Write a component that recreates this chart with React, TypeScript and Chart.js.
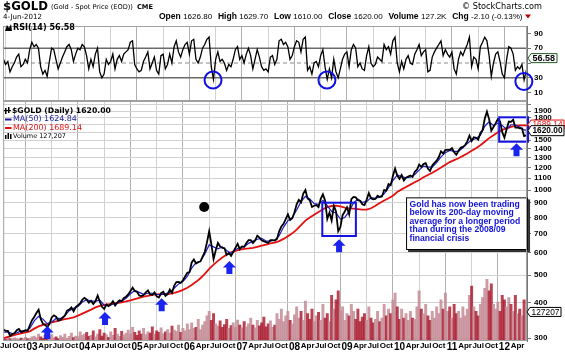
import React, { useEffect, useRef } from 'react';
import { Chart, registerables } from 'chart.js';
Chart.register(...registerables);

// ---------------- DATA ----------------
const X_MIN = 2002.45;
const X_MAX = 2012.43;
const X_TICK_START = 2002.5; // quarterly ticks starting Jul 2002
const X_TICK_LABELS = ['Jul','Oct','03','Apr','Jul','Oct','04','Apr','Jul','Oct','05','Apr','Jul','Oct','06','Apr','Jul','Oct','07','Apr','Jul','Oct','08','Apr','Jul','Oct','09','Apr','Jul','Oct','10','Apr','Jul','Oct','11','Apr','Jul','Oct','12','Apr'];

const PRICE_TICKS = [300,400,500,600,700,800,900,1000,1100,1200,1300,1400,1500,1600,1700,1800,1900,2000];
const PRICE_TICK_LABELS = ['300','400','500','600','700','800','900','1000','1100','1200','1300','1400','1500','','','1800','1900',''];
const RSI_TICKS = [10,30,50,70,90];
const RSI_TICK_LABELS = ['10','30','','70','90'];

// semi-monthly closes (mid-month, month-end); 2002 starts mid-June
const PRICE_2002 = [322,318,318,305,310,312,320,323,315,317,320,318,333,347];
const PRICE_2003 = [356,368,378,350,337,334,328,337,355,361,357,346,348,354,360,375,378,385,373,386,392,398,410,416];
const PRICE_2004 = [410,400,406,396,405,424,403,387,380,394,389,395,405,391,401,408,405,416,420,428,440,452,440,437];
const PRICE_2005 = [424,422,426,435,442,428,426,435,421,417,432,437,423,429,445,433,460,473,474,470,480,495,510,513];
const PRICE_2006 = [555,569,550,556,560,582,605,654,715,643,570,613,650,632,625,623,590,599,585,604,625,646,618,632];
const PRICE_2007 = [630,650,665,665,650,663,690,679,665,659,655,650,665,665,663,672,715,743,760,789,820,783,795,834];
const PRICE_2008 = [890,923,905,972,1000,933,920,871,880,885,870,930,965,918,790,833,780,880,840,715,740,815,840,869];
const PRICE_2009 = [820,928,945,942,920,916,890,884,925,975,935,927,930,955,945,949,1000,995,1050,1040,1120,1190,1125,1096];
const PRICE_2010 = [1130,1081,1105,1116,1125,1112,1160,1179,1230,1207,1235,1244,1190,1169,1220,1246,1270,1307,1370,1346,1385,1386,1385,1405];
const PRICE_2011 = [1360,1332,1375,1409,1420,1439,1485,1556,1490,1536,1530,1505,1590,1628,1785,1890,1780,1620,1670,1722,1780,1746,1600,1531];
const PRICE_2012 = [1640,1744,1740,1770,1660,1662,1650,1651,1550,1558];
const LAST_DATE = 2012.425;
const LAST_CLOSE = 1620.0;

const RSI_2002 = [55,48,52,38,45,50,58,62,45,48,55,50,68,78];
const RSI_2003 = [72,75,70,45,35,40,32,52,70,68,55,42,50,58,65,72,75,68,52,62,70,68,75,72];
const RSI_2004 = [60,42,55,45,62,70,38,30,35,55,48,52,62,42,55,60,52,62,65,68,78,80,48,42];
const RSI_2005 = [38,40,52,58,65,42,50,58,40,35,60,62,42,48,62,50,72,80,65,58,68,75,78,62];
const RSI_2006 = [80,82,55,50,58,70,75,82,85,45,28,55,65,52,55,50,40,48,45,55,68,72,55,60];
const RSI_2007 = [50,62,70,60,42,55,68,58,45,40,42,38,58,60,48,55,80,82,75,78,72,55,60,72];
const RSI_2008 = [80,78,65,82,85,40,45,35,50,52,45,60,68,45,28,42,30,55,38,30,42,55,62,65];
const RSI_2009 = [45,68,75,70,45,50,42,40,60,72,50,45,48,58,55,52,75,68,72,62,80,85,50,38];
const RSI_2010 = [52,42,55,60,50,48,62,68,75,60,65,68,38,40,58,65,70,75,80,60,68,62,58,65];
const RSI_2011 = [42,35,55,65,60,68,75,85,45,58,55,42,72,78,85,80,60,32,50,62,65,52,35,30];
const RSI_2012 = [55,72,70,62,40,45,42,48,27,40];
const LAST_RSI = 56.58;

// volume, thousands
const VOL_2002 = [12,8,15,10,9,14,11,7,13,10,16,9,12,18];
const VOL_2003 = [22,15,30,18,12,25,10,20,28,14,18,9,24,16,30,12,20,35,15,22,18,40,25,30];
const VOL_2004 = [38,20,25,45,18,30,50,22,35,28,16,40,25,55,30,20,42,26,35,48,30,60,38,25];
const VOL_2005 = [45,30,55,28,40,35,62,30,45,38,58,32,40,50,35,65,48,42,70,38,55,45,75,50];
const VOL_2006 = [80,55,60,95,50,70,85,110,130,90,120,75,65,88,60,72,95,55,68,80,60,92,70,58];
const VOL_2007 = [85,62,75,100,70,58,90,66,80,105,62,75,88,60,70,120,95,140,85,110,130,90,75,115];
const VOL_2008 = [150,100,130,90,175,120,95,140,85,110,125,90,160,100,120,85,200,140,180,220,130,150,90,120];
const VOL_2009 = [110,160,130,95,140,85,105,120,90,150,100,80,95,130,85,100,160,110,140,120,180,210,150,95];
const VOL_2010 = [140,100,120,90,130,100,95,150,220,140,120,160,110,90,130,100,150,120,180,140,210,130,150,100];
const VOL_2011 = [160,120,130,100,150,110,140,200,240,150,130,110,160,190,230,270,220,250,160,140,170,130,200,180];
const VOL_2012 = [150,190,160,130,200,120,140,110,180,150];
const LAST_VOL = 127.207;

// monthly moving averages (mid-month); 2002 starts June
const MA50_2002 = [315,315,311,313,318,318,325];
const MA50_2003 = [345,358,350,337,342,352,352,360,375,382,388,402];
const MA50_2004 = [410,405,405,408,392,390,395,400,406,415,430,442];
const MA50_2005 = [435,428,432,432,428,427,430,435,450,466,475,495];
const MA50_2006 = [530,555,560,595,640,630,620,630,612,598,615,628];
const MA50_2007 = [630,648,660,670,675,660,660,665,690,740,780,800];
const MA50_2008 = [850,910,950,930,895,890,920,880,840,830,790,800];
const MA50_2009 = [840,900,930,905,910,940,935,945,970,1020,1080,1130];
const MA50_2010 = [1115,1105,1110,1135,1175,1215,1205,1205,1250,1310,1355,1380];
const MA50_2011 = [1370,1370,1410,1460,1500,1520,1560,1680,1740,1690,1720,1690];
const MA50_2012 = [1640,1700,1700,1670,1630,1625];

const MA200_2002 = [300,303,306,309,312,314,317];
const MA200_2003 = [324,330,334,337,341,344,347,350,352,355,360,366];
const MA200_2004 = [372,378,385,390,393,395,398,399,401,404,408,412];
const MA200_2005 = [416,420,423,426,428,429,429,430,433,438,444,452];
const MA200_2006 = [462,474,488,506,527,545,562,578,592,602,610,616];
const MA200_2007 = [620,622,625,630,636,642,648,652,660,672,687,703];
const MA200_2008 = [725,752,780,800,818,836,855,870,878,880,875,866];
const MA200_2009 = [862,860,856,852,852,862,880,900,918,935,955,985];
const MA200_2010 = [1005,1025,1045,1065,1085,1110,1130,1150,1175,1200,1228,1255];
const MA200_2011 = [1275,1295,1320,1345,1375,1405,1440,1480,1525,1560,1600,1630];
const MA200_2012 = [1650,1670,1685,1690,1690,1689];

const MA50_LAST = 1624.84;
const MA200_LAST = 1689.14;

// annotations (data coordinates)
const RSI_CIRCLES = [{ x: 2006.45, v: 27 }, { x: 2008.62, v: 27 }, { x: 2012.37, v: 25 }];
const BOXES = [{ x0: 2008.53, x1: 2009.17, p0: 902, p1: 688 }, { x0: 2011.9, x1: 2012.45, p0: 1806, p1: 1481 }];
const ARROWS = [{ x: 2003.29, p: 331 }, { x: 2004.39, p: 371 }, { x: 2005.47, p: 415 }, { x: 2006.76, p: 561 }, { x: 2008.85, p: 670 }, { x: 2012.23, p: 1462 }];
const DOT = { x: 2006.28, p: 871 };
const NOTE = { x0: 2010.126, x1: 2012.45, p0: 942, p1: 614 };
const NOTE_LINES = ['Gold has now been trading', 'below its 200-day moving', 'average for a longer period', 'than during the 2008/09', 'financial crisis'];

const HEADER_ROW2: [string, string][] = [
  ['Open', '1626.80'], ['High', '1629.70'], ['Low', '1610.00'], ['Close', '1620.00'], ['Volume', '127.2K'], ['Chg', '-2.10 (-0.13%)'],
];

// ---------------- BUILD ----------------
const PRICE_ROWS = [PRICE_2002,PRICE_2003,PRICE_2004,PRICE_2005,PRICE_2006,PRICE_2007,PRICE_2008,PRICE_2009,PRICE_2010,PRICE_2011,PRICE_2012];
const RSI_ROWS = [RSI_2002,RSI_2003,RSI_2004,RSI_2005,RSI_2006,RSI_2007,RSI_2008,RSI_2009,RSI_2010,RSI_2011,RSI_2012];
const VOL_ROWS = [VOL_2002,VOL_2003,VOL_2004,VOL_2005,VOL_2006,VOL_2007,VOL_2008,VOL_2009,VOL_2010,VOL_2011,VOL_2012];
const MA50_ROWS = [MA50_2002,MA50_2003,MA50_2004,MA50_2005,MA50_2006,MA50_2007,MA50_2008,MA50_2009,MA50_2010,MA50_2011,MA50_2012];
const MA200_ROWS = [MA200_2002,MA200_2003,MA200_2004,MA200_2005,MA200_2006,MA200_2007,MA200_2008,MA200_2009,MA200_2010,MA200_2011,MA200_2012];

function halfMonth(rows: number[][], last: number) {
  const pts: { x: number; y: number }[] = [];
  rows.forEach((vals, k) => {
    const year = 2002 + k;
    const start = year === 2002 ? 10 : 0;
    vals.forEach((v, j) => pts.push({ x: year + (start + j + 1) / 24, y: v }));
  });
  pts.push({ x: LAST_DATE, y: last });
  return pts;
}
function monthly(rows: number[][]) {
  const pts: { x: number; y: number }[] = [];
  rows.forEach((vals, k) => {
    const year = 2002 + k;
    const start = year === 2002 ? 5 : 0;
    vals.forEach((v, j) => pts.push({ x: year + (start + j + 0.5) / 12, y: v }));
  });
  return pts;
}

const FAM = 'Liberation Sans';
const VFAM = 'DejaVu Sans';
const isYear = (s: string) => /\d/.test(s || '');
const X_TICK_VALUES = X_TICK_LABELS.map((_, i) => X_TICK_START + i * 0.25);

function xGridColor(i: number) {
  const l = X_TICK_LABELS[i];
  if (isYear(l)) return '#b0b0b0';
  if (l === 'Jul') return '#d2d2d2';
  return 'rgba(0,0,0,0)';
}

function xScale(show: boolean): any {
  return {
    type: 'linear', min: X_MIN, max: X_MAX, offset: false,
    afterBuildTicks: (s: any) => { s.ticks = X_TICK_VALUES.map((v) => ({ value: v })); },
    afterFit: (s: any) => { s.height = show ? 13 : 0; },
    ticks: show ? {
      display: true, autoSkip: false, maxRotation: 0, minRotation: 0, padding: 0, color: '#000',
      callback: (_v: any, i: number) => X_TICK_LABELS[i],
      font: (c: any) => isYear(X_TICK_LABELS[c.index]) ? { family: FAM, size: 10, weight: 'bold' } : { family: FAM, size: 8, weight: 'bold' },
    } : { display: false },
    grid: { color: (c: any) => xGridColor(c.index), lineWidth: 1, drawTicks: false },
    border: { display: false },
  };
}

function drawFit(ctx: CanvasRenderingContext2D, text: string, x0: number, x1: number, y: number, weight: string, family: string, color: string, maxSize = 14) {
  ctx.font = `${weight} 10px "${family}"`;
  const w = ctx.measureText(text).width;
  const size = Math.min(maxSize, (10 * (x1 - x0)) / w);
  ctx.font = `${weight} ${size.toFixed(2)}px "${family}"`;
  ctx.fillStyle = color;
  ctx.textAlign = 'left';
  ctx.textBaseline = 'middle';
  ctx.fillText(text, x0, y);
}

function drawRow(ctx: CanvasRenderingContext2D, items: [string, string][], x0: number, x1: number, y: number) {
  const LS = 9, NS = 8.5, GIN = 2.5, GOUT = 6;
  const lf = (s: number) => `bold ${s.toFixed(2)}px "${FAM}"`;
  const nf = (s: number) => `normal ${s.toFixed(2)}px "${FAM}"`;
  let total = 0;
  items.forEach(([l, n], i) => {
    ctx.font = lf(LS); total += ctx.measureText(l).width + GIN;
    ctx.font = nf(NS); total += ctx.measureText(n).width;
    if (i < items.length - 1) total += GOUT;
  });
  const f = (x1 - x0) / total;
  let x = x0;
  ctx.fillStyle = '#000'; ctx.textAlign = 'left'; ctx.textBaseline = 'middle';
  items.forEach(([l, n]) => {
    ctx.font = lf(LS * f); ctx.fillText(l, x, y); x += ctx.measureText(l).width + GIN * f;
    ctx.font = nf(NS * f); ctx.fillText(n, x, y + 0.5); x += ctx.measureText(n).width + GOUT * f;
  });
}

function valueTag(ctx: CanvasRenderingContext2D, text: string, x: number, y: number, w: number, h: number, border: string, color: string, bold = true) {
  ctx.save();
  ctx.beginPath();
  ctx.moveTo(x - 3, y);
  ctx.lineTo(x, y - h / 2);
  ctx.lineTo(x + w, y - h / 2);
  ctx.lineTo(x + w, y + h / 2);
  ctx.lineTo(x, y + h / 2);
  ctx.closePath();
  ctx.fillStyle = '#fff';
  ctx.fill();
  ctx.strokeStyle = border;
  ctx.lineWidth = 1;
  ctx.stroke();
  drawFit(ctx, text, x + 1.5, x + w - 1.5, y + 0.5, bold ? 'bold' : 'normal', FAM, color, 9);
  ctx.restore();
}

const rsiDecor = {
  id: 'rsiDecor',
  beforeDatasetsDraw(chart: any) {
    const { ctx, chartArea: a, scales } = chart;
    const y = scales.y;
    ctx.save();
    ctx.strokeStyle = '#6a6a6a';
    ctx.lineWidth = 1.4;
    [70, 30].forEach((v) => {
      const yy = y.getPixelForValue(v);
      ctx.beginPath(); ctx.moveTo(a.left, yy); ctx.lineTo(a.right, yy); ctx.stroke();
    });
    ctx.setLineDash([4, 3]);
    ctx.strokeStyle = '#8a8a8a';
    ctx.lineWidth = 1;
    const y50 = y.getPixelForValue(50);
    ctx.beginPath(); ctx.moveTo(a.left, y50); ctx.lineTo(a.right, y50); ctx.stroke();
    ctx.restore();
  },
  afterDraw(chart: any) {
    const { ctx, chartArea: a, scales } = chart;
    const x = scales.x, y = scales.y;
    ctx.save();
    ctx.strokeStyle = '#a0a0a0'; ctx.lineWidth = 1;
    ctx.strokeRect(a.left + 0.5, a.top + 0.5, a.right - a.left - 1, a.bottom - a.top);
    // header
    drawFit(ctx, '$GOLD', 3, 48, 7, 'bold', VFAM, '#000');
    drawFit(ctx, '(Gold - Spot Price (EOD))', 51, 133, 7.5, 'normal', VFAM, '#000');
    drawFit(ctx, 'CME', 137, 153, 7.5, 'bold', VFAM, '#000');
    drawFit(ctx, '\u00A9 StockCharts.com', 462, 542, 7, 'normal', VFAM, '#000');
    drawFit(ctx, '4-Jun-2012', 3, 42, 17, 'normal', VFAM, '#000');
    drawRow(ctx, HEADER_ROW2, 159, 523, 16.5);
    ctx.fillStyle = '#c00000';
    ctx.beginPath(); ctx.moveTo(525, 14.5); ctx.lineTo(531, 14.5); ctx.lineTo(528, 18.5); ctx.closePath(); ctx.fill();
    // RSI legend
    ctx.fillStyle = '#000';
    ctx.beginPath(); ctx.moveTo(5, 31); ctx.lineTo(7, 25); ctx.lineTo(9, 28); ctx.lineTo(11, 24); ctx.lineTo(12, 31); ctx.closePath(); ctx.fill();
    drawFit(ctx, 'RSI(14) 56.58', 13, 75, 27.5, 'bold', VFAM, '#000');
    // circles
    ctx.strokeStyle = '#1010e0'; ctx.lineWidth = 2;
    RSI_CIRCLES.forEach((c) => {
      ctx.beginPath(); ctx.arc(x.getPixelForValue(c.x), y.getPixelForValue(c.v), 8.5, 0, Math.PI * 2); ctx.stroke();
    });
    valueTag(ctx, '56.58', 531, y.getPixelForValue(LAST_RSI), 26, 9, '#1f5a1f', '#000');
    ctx.restore();
  },
};

const priceDecor = {
  id: 'priceDecor',
  afterDatasetsDraw(chart: any) {
    const { ctx, scales } = chart;
    const x = scales.x, y = scales.y;
    const px = (v: number) => x.getPixelForValue(v);
    const py = (v: number) => y.getPixelForValue(v);
    ctx.save();
    ctx.strokeStyle = '#1414e0'; ctx.lineWidth = 2;
    BOXES.forEach((b) => ctx.strokeRect(px(b.x0), py(b.p0), px(b.x1) - px(b.x0), py(b.p1) - py(b.p0)));
    ctx.fillStyle = '#1a24ee';
    ARROWS.forEach((a) => {
      const cx = px(a.x), ty = py(a.p);
      ctx.beginPath();
      ctx.moveTo(cx, ty); ctx.lineTo(cx + 6.5, ty + 6.5); ctx.lineTo(cx + 3, ty + 6.5); ctx.lineTo(cx + 3, ty + 13);
      ctx.lineTo(cx - 3, ty + 13); ctx.lineTo(cx - 3, ty + 6.5); ctx.lineTo(cx - 6.5, ty + 6.5); ctx.closePath();
      ctx.fill();
    });
    ctx.fillStyle = '#000';
    ctx.beginPath(); ctx.arc(px(DOT.x), py(DOT.p), 5, 0, Math.PI * 2); ctx.fill();
    const nx0 = px(NOTE.x0), nx1 = px(NOTE.x1), ny0 = py(NOTE.p0), ny1 = py(NOTE.p1);
    ctx.fillStyle = '#333';
    ctx.fillRect(nx0 + 2, ny0 + 2, nx1 - nx0, ny1 - ny0);
    ctx.fillStyle = '#fff';
    ctx.fillRect(nx0, ny0, nx1 - nx0, ny1 - ny0);
    ctx.strokeStyle = '#000'; ctx.lineWidth = 1;
    ctx.strokeRect(nx0 + 0.5, ny0 + 0.5, nx1 - nx0 - 1, ny1 - ny0 - 1);
    ctx.font = `bold 10px "${FAM}"`;
    const ref = ctx.measureText(NOTE_LINES[2]).width;
    const fs = (10 * 111) / ref;
    ctx.font = `bold ${fs.toFixed(2)}px "${FAM}"`;
    ctx.fillStyle = '#1212d8'; ctx.textAlign = 'left'; ctx.textBaseline = 'middle';
    const lh = (ny1 - ny0 - 10) / NOTE_LINES.length;
    NOTE_LINES.forEach((t, i) => ctx.fillText(t, nx0 + 3.5, ny0 + 7 + i * lh));
    ctx.restore();
  },
  afterDraw(chart: any) {
    const { ctx, chartArea: a, scales } = chart;
    const y = scales.y, yv = scales.yVol;
    const oy = -92;
    ctx.save();
    ctx.strokeStyle = '#a0a0a0'; ctx.lineWidth = 1;
    ctx.strokeRect(a.left + 0.5, a.top + 0.5, a.right - a.left - 1, a.bottom - a.top - 1);
    ctx.fillStyle = '#000';
    ctx.fillRect(5, 108 + oy, 1.5, 6); ctx.fillRect(8, 107 + oy, 1.5, 6); ctx.fillRect(4, 110 + oy, 7, 1);
    drawFit(ctx, '$GOLD (Daily) 1620.00', 12, 111, 110.7 + oy, 'bold', VFAM, '#000');
    ctx.fillStyle = '#1a1a9a'; ctx.fillRect(5, 118.5 + oy, 6.5, 2);
    drawFit(ctx, 'MA(50) 1624.84', 13, 77, 119.3 + oy, 'normal', VFAM, '#1a1a9a');
    ctx.fillStyle = '#e01010'; ctx.fillRect(5, 127 + oy, 6.5, 2);
    drawFit(ctx, 'MA(200) 1689.14', 13, 82, 127.7 + oy, 'normal', VFAM, '#e01010');
    ctx.fillStyle = '#000';
    ctx.fillRect(5, 135 + oy, 1.5, 4); ctx.fillRect(7.5, 133 + oy, 1.5, 6); ctx.fillRect(10, 134 + oy, 1.5, 5);
    drawFit(ctx, 'Volume 127,207', 13, 66, 136 + oy, 'normal', VFAM, '#000');
    const yma = y.getPixelForValue(MA200_LAST);
    ctx.strokeStyle = '#e01010'; ctx.lineWidth = 1;
    ctx.beginPath(); ctx.moveTo(a.right - 6, yma); ctx.lineTo(565, yma); ctx.stroke();
    valueTag(ctx, '1689.14', 531, yma - 1, 33, 9, '#e01010', '#e01010', false);
    valueTag(ctx, '1620.00', 531, y.getPixelForValue(LAST_CLOSE), 33, 10, '#000', '#000');
    valueTag(ctx, '127207', 530, yv.getPixelForValue(LAST_VOL), 31, 9, '#000', '#000', false);
    ctx.restore();
  },
};

export default function App() {
  const rsiRef = useRef<HTMLCanvasElement>(null);
  const priceRef = useRef<HTMLCanvasElement>(null);

  useEffect(() => {
    Chart.defaults.font.family = FAM;
    const pricePts = halfMonth(PRICE_ROWS, LAST_CLOSE);
    const rsiPts = halfMonth(RSI_ROWS, LAST_RSI);
    const volPts = halfMonth(VOL_ROWS, LAST_VOL);
    const ma50Pts = monthly(MA50_ROWS);
    const ma200Pts = monthly(MA200_ROWS);
    const volColors = volPts.map((_, i) => (i > 0 && pricePts[i].y >= pricePts[i - 1].y ? 'rgba(196,140,150,0.85)' : 'rgba(168,20,40,0.8)'));

    const rsiChart = new Chart(rsiRef.current as HTMLCanvasElement, {
      type: 'line',
      data: { datasets: [{ data: rsiPts, borderColor: '#000', borderWidth: 1.3, pointRadius: 0, tension: 0 } as any] },
      options: {
        animation: false, responsive: false, devicePixelRatio: 1,
        layout: { padding: { top: 26, left: 3, right: 0, bottom: 9 } },
        plugins: { legend: { display: false }, tooltip: { enabled: false } },
        events: [],
        scales: {
          x: xScale(false),
          y: {
            type: 'linear', position: 'right', min: 0, max: 100,
            afterBuildTicks: (s: any) => { s.ticks = RSI_TICKS.map((v) => ({ value: v })); },
            afterFit: (s: any) => { s.width = 38; },
            ticks: { autoSkip: false, padding: 3, color: '#000', font: { family: FAM, size: 8, weight: 'bold' }, callback: (_v: any, i: number) => RSI_TICK_LABELS[i] },
            grid: { color: 'rgba(0,0,0,0)', tickLength: 4, tickColor: '#777' },
            border: { display: true, color: '#777' },
          } as any,
        },
      } as any,
      plugins: [rsiDecor],
    });

    const priceChart = new Chart(priceRef.current as HTMLCanvasElement, {
      type: 'line',
      data: {
        datasets: [
          { type: 'line', data: pricePts, borderColor: '#000', borderWidth: 1.8, pointRadius: 0, tension: 0, yAxisID: 'y', order: 1 },
          { type: 'line', data: ma50Pts, borderColor: '#1c1cc8', borderWidth: 1.2, pointRadius: 0, tension: 0, yAxisID: 'y', order: 2 },
          { type: 'line', data: ma200Pts, borderColor: '#e41010', borderWidth: 1.8, pointRadius: 0, tension: 0, yAxisID: 'y', order: 3 },
          { type: 'bar', data: volPts, backgroundColor: volColors, barThickness: 2.3, yAxisID: 'yVol', order: 4 },
        ] as any,
      },
      options: {
        animation: false, responsive: false, devicePixelRatio: 1,
        layout: { padding: { top: 9, left: 3, right: 0, bottom: 0 } },
        plugins: { legend: { display: false }, tooltip: { enabled: false } },
        events: [],
        scales: {
          x: xScale(true),
          y: {
            type: 'logarithmic', position: 'right', min: 293, max: 2062,
            afterBuildTicks: (s: any) => { s.ticks = PRICE_TICKS.map((v) => ({ value: v })); },
            afterFit: (s: any) => { s.width = 38; },
            ticks: { autoSkip: false, padding: 3, color: '#000', font: { family: FAM, size: 8, weight: 'bold' }, callback: (_v: any, i: number) => PRICE_TICK_LABELS[i] },
            grid: { color: '#d2d2d2', tickLength: 4, tickColor: '#777' },
            border: { display: true, color: '#777' },
          },
          yVol: { type: 'linear', display: false, min: 0, max: 1050, position: 'left' },
        },
      } as any,
      plugins: [priceDecor],
    });

    return () => { rsiChart.destroy(); priceChart.destroy(); };
  }, []);

  return (
    <div style={{ position: 'fixed', left: 0, top: 0, width: 565, height: 354, background: '#fff', overflow: 'hidden' }}>
      <canvas ref={rsiRef} width={565} height={109} style={{ position: 'absolute', left: 0, top: 0, width: 565, height: 109 }} />
      <canvas ref={priceRef} width={565} height={262} style={{ position: 'absolute', left: 0, top: 92, width: 565, height: 262 }} />
    </div>
  );
}
